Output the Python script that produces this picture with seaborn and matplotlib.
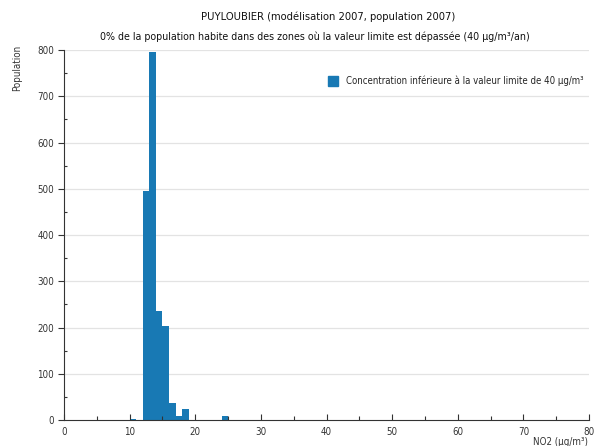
import matplotlib
matplotlib.use("Agg")
import matplotlib.pyplot as plt
import seaborn as sns
from matplotlib.ticker import MultipleLocator
from matplotlib.lines import Line2D

# NO2 class (lower bound, µg/m³, classes of 1 µg/m³) and population per class
no2_bins = [10, 12, 13, 14, 15, 16, 17, 18, 21, 24]
population = [2, 496, 796, 236, 204, 36, 9, 23, 1, 9]
y_grid = [100, 200, 300, 400, 500, 600, 700, 800]

title = "PUYLOUBIER (modélisation 2007, population 2007)"
subtitle = "0% de la population habite dans des zones où la valeur limite est dépassée (40 µg/m³/an)"
legend_label = "Concentration inférieure à la valeur limite de 40 µg/m³"
bar_color = "#1879b4"

sns.set_style("white")
plt.rcParams['font.family'] = ['DejaVu Sans']
plt.rcParams['font.stretch'] = 'condensed'

fig = plt.figure(figsize=(6.01, 4.46), dpi=100)
ax = fig.add_axes([64 / 601, 26 / 446, 525 / 601, 370 / 446])

sns.histplot(x=[b + 0.5 for b in no2_bins], weights=population, binwidth=1, binrange=(0, 80),
             color=bar_color, alpha=1, edgecolor="none", linewidth=0, ax=ax, zorder=1)

# gridlines under the bars, ticks above them
for g in y_grid:
    ax.axhline(g, color="#e3e3e3", linewidth=0.9, zorder=0.5)
ax.set_axisbelow("line")

ax.set_xlim(0, 80)
ax.set_ylim(0, 800)
ax.xaxis.set_major_locator(MultipleLocator(10))
ax.xaxis.set_minor_locator(MultipleLocator(5))
ax.yaxis.set_major_locator(MultipleLocator(100))
ax.yaxis.set_minor_locator(MultipleLocator(50))
ax.tick_params(bottom=True, left=True, which="both", color="#333333", width=0.8)
ax.tick_params(axis="both", which="major", labelsize=7, labelcolor="#333333")
ax.tick_params(axis="y", which="major", direction="out", length=4, pad=3)
ax.tick_params(axis="y", which="minor", direction="in", length=2.5)
ax.tick_params(axis="x", which="major", direction="in", length=4, pad=5)
ax.tick_params(axis="x", which="minor", direction="in", length=3)
for s in ["top", "right"]:
    ax.spines[s].set_visible(False)
for s in ["left", "bottom"]:
    ax.spines[s].set_color("#333333")
    ax.spines[s].set_linewidth(0.8)

ax.set_ylabel("")
ax.set_xlabel("")
fig.text(17 / 601, 1 - 68 / 446, "Population", rotation=90, ha="center", va="center",
         fontsize=7, color="#333333")
fig.text(588 / 601, 1 - 442 / 446, "NO2 (µg/m³)", ha="right", va="center", fontsize=7, color="#333333")

fig.text(328 / 601, 1 - 17 / 446, title, ha="center", va="center", fontsize=8, color="#111111")
fig.text(314.5 / 601, 1 - 37 / 446, subtitle, ha="center", va="center", fontsize=7.65, color="#111111")

handle = Line2D([], [], marker="s", linestyle="none", markersize=6.5, color=bar_color)
ax.legend([handle], [legend_label], loc="upper right", bbox_to_anchor=(0.9975, 0.941),
          frameon=False, fontsize=6.9, handletextpad=0.4, borderaxespad=0)

fig.savefig("out.png", dpi=100)
